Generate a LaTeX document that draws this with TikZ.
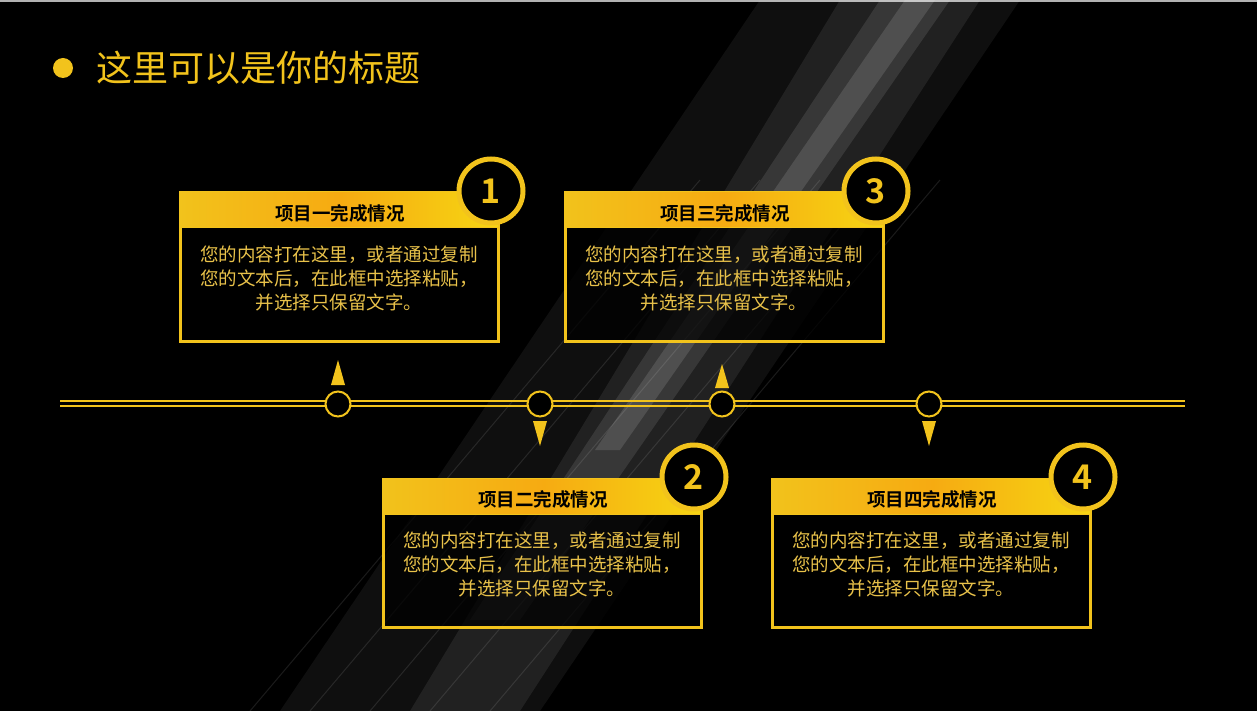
\documentclass[tikz,border=0pt]{standalone}
\usepackage{fontspec}
\newfontfamily\cjk{Noto Sans CJK SC}
\newfontfamily\cjkb{Noto Sans CJK SC Bold}
\usetikzlibrary{fadings}
\definecolor{gold}{HTML}{F2C31C}
\definecolor{txt}{HTML}{E9C24A}
\begin{document}
\begin{tikzpicture}[x=1pt,y=-1pt,
 box/.style={draw=gold,line width=3pt,fill=black,fill opacity=0.75,draw opacity=1},
 band/.style={fill=gold},
 badge/.style={circle,draw=gold,line width=5pt,fill=black,minimum size=64pt,inner sep=0pt,text=gold,font=\cjkb\fontsize{34}{34}\selectfont},
 head/.style={font=\cjkb\fontsize{18.5}{18.5}\selectfont,text=black},
 body/.style={font=\cjk\fontsize{18.5}{24}\selectfont,text=txt,align=center},
 dot/.style={circle,draw=gold,line width=2pt,fill=black,minimum size=25pt,inner sep=0pt},
 tri/.style={fill=gold}]
\useasboundingbox (0,0) rectangle (1257,711);
\fill[black] (0,0) rectangle (1257,711);
\fill[gray!60] (0,0) rectangle (1257,2);
% light beams
\fill[white,opacity=0.06] (760,0) -- (1020,0) -- (540,711) -- (280,711) -- cycle;
\fill[white,opacity=0.08] (840,0) -- (980,0) -- (520,711) -- (410,711) -- cycle;
\fill[white,opacity=0.10] (880,0) -- (950,0) -- (520,620) -- (470,620) -- cycle;
\fill[white,opacity=0.12] (905,0) -- (935,0) -- (620,450) -- (595,450) -- cycle;
\foreach \a in {0,60,120,180,240}{\draw[white,opacity=0.10,line width=1pt] (700+\a,180) -- (\a+250,711);}
% title
\fill[gold] (63,68) circle (10);
\node[anchor=west,text=gold,font=\cjk\fontsize{36}{36}\selectfont] (title) at (93,68) {这里可以是你的标题};
% timeline
\draw[gold,line width=1.5pt] (60,401) -- (1185,401);
\draw[gold,line width=1.5pt] (60,406) -- (1185,406);
\foreach \n/\x in {a/338,b/540,c/722,d/929}{\node[dot] (\n) at (\x,404) {};}
\fill[tri] (338,360) -- (345,385) -- (331,385) -- cycle;
\fill[tri] (722,364) -- (729,388) -- (715,388) -- cycle;
\fill[tri] (540,446) -- (547,421) -- (533,421) -- cycle;
\fill[tri] (929,446) -- (936,421) -- (922,421) -- cycle;
% boxes
\foreach \n/\x/\y/\t/\k in {1/180/193/项目一完成情况/1,3/565/193/项目三完成情况/3,2/383/479/项目二完成情况/2,4/772/479/项目四完成情况/4}{
 \draw[box] (\x,\y) rectangle ++(318,148);
 \fill[band] (\x-1.5,\y-1.5) rectangle ++(321,37);
 \shade[left color=gold,right color=yellow!60!gold,middle color=orange!70!gold,opacity=0.5] (\x,\y) rectangle ++(318,34);
 \node[head] (h\n) at (\x+160,\y+20) {\t};
 \node[body] (b\n) at (\x+159,\y+85) {您的内容打在这里，或者通过复制\\您的文本后，在此框中选择粘贴，\\并选择只保留文字。};
 \node[badge] (n\n) at (\x+311,\y-2) {\k};
}
\end{tikzpicture}
\end{document}
